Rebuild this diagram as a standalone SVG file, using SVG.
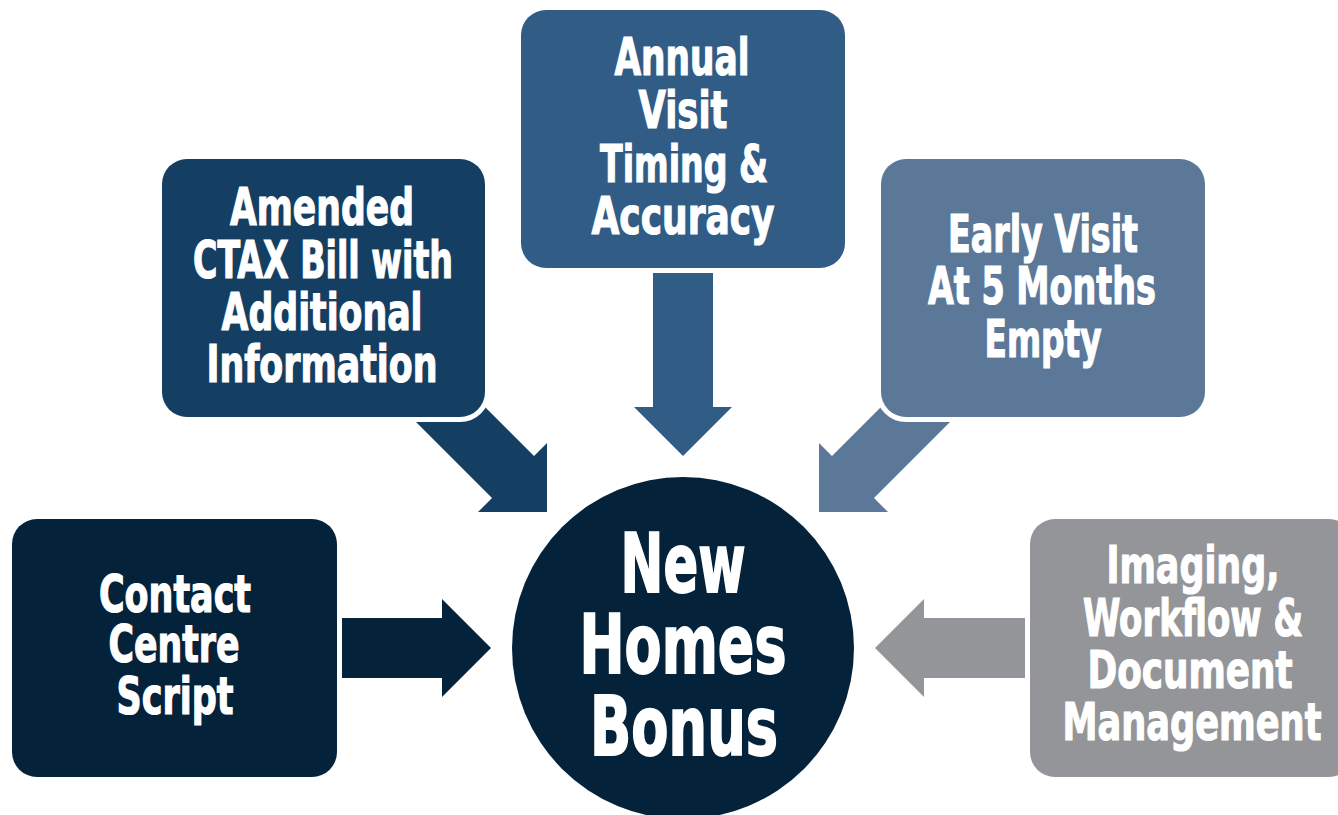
<svg xmlns="http://www.w3.org/2000/svg" width="1338" height="815" viewBox="0 0 1338 815">
<style>
.box{stroke:#ffffff;stroke-width:10;paint-order:stroke}
.t{font-family:"Liberation Sans Narrow","DejaVu Sans Condensed","Liberation Sans",sans-serif;font-weight:bold;font-size:52px;fill:#ffffff;stroke:#ffffff;stroke-width:1.2;text-anchor:middle}
.big{font-size:82px;stroke-width:1.8}
.c1{fill:#04223A}
.c2{fill:#143F63}
.c3{fill:#305C86}
.c4{fill:#5B7899}
.c5{fill:#939598}
</style>
<rect width="1338" height="815" fill="#ffffff"/>
<g id="connectors">
<polygon class="c1" points="320,618 442,618 442,599 491,648 442,697 442,678 320,678"/>
<polygon class="c5" points="1046,618 924,618 924,599 875,648 924,697 924,678 1046,678"/>
<polygon class="c3" points="653,250 713,250 713,407 732,407 683,456 634,407 653,407"/>
<polygon class="c2" points="440,362 534,456 547,443 547,512 478,512 492,498 400,406"/>
<polygon class="c4" points="926,362 832,456 819,443 819,512 888,512 874,498 966,406"/>
</g>
<g id="node-center">
<circle class="c1" cx="683" cy="648" r="171"/>
<text class="t big" x="683" y="592" textLength="125" lengthAdjust="spacingAndGlyphs">New</text>
<text class="t big" x="683" y="673" textLength="207" lengthAdjust="spacingAndGlyphs">Homes</text>
<text class="t big" x="684" y="755" textLength="188" lengthAdjust="spacingAndGlyphs">Bonus</text>
</g>
<g id="node-contact">
<rect class="box c1" x="12" y="519" width="325" height="258" rx="25"/>
<text class="t" x="175" y="612" textLength="152" lengthAdjust="spacingAndGlyphs">Contact</text>
<text class="t" x="174" y="662" textLength="131" lengthAdjust="spacingAndGlyphs">Centre</text>
<text class="t" x="175" y="714" textLength="117" lengthAdjust="spacingAndGlyphs">Script</text>
</g>
<g id="node-amended">
<rect class="box c2" x="162" y="159" width="323" height="258" rx="25"/>
<text class="t" x="322" y="225" textLength="184" lengthAdjust="spacingAndGlyphs">Amended</text>
<text class="t" x="323" y="278" textLength="260" lengthAdjust="spacingAndGlyphs">CTAX Bill with</text>
<text class="t" x="322" y="330" textLength="201" lengthAdjust="spacingAndGlyphs">Additional</text>
<text class="t" x="322" y="382" textLength="231" lengthAdjust="spacingAndGlyphs">Information</text>
</g>
<g id="node-annual">
<rect class="box c3" x="521" y="10" width="324" height="258" rx="25"/>
<text class="t" x="682" y="75" textLength="135" lengthAdjust="spacingAndGlyphs">Annual</text>
<text class="t" x="683" y="128" textLength="89" lengthAdjust="spacingAndGlyphs">Visit</text>
<text class="t" x="684" y="182" textLength="168" lengthAdjust="spacingAndGlyphs">Timing &amp;</text>
<text class="t" x="683" y="234" textLength="183" lengthAdjust="spacingAndGlyphs">Accuracy</text>
</g>
<g id="node-early">
<rect class="box c4" x="881" y="159" width="324" height="258" rx="25"/>
<text class="t" x="1043" y="252" textLength="190" lengthAdjust="spacingAndGlyphs">Early Visit</text>
<text class="t" x="1042" y="304" textLength="228" lengthAdjust="spacingAndGlyphs">At 5 Months</text>
<text class="t" x="1043" y="357" textLength="117" lengthAdjust="spacingAndGlyphs">Empty</text>
</g>
<g id="node-imaging">
<rect class="box c5" x="1030" y="519" width="324" height="258" rx="25"/>
<text class="t" x="1193" y="583" textLength="173" lengthAdjust="spacingAndGlyphs">Imaging,</text>
<text class="t" x="1193" y="636" textLength="220" lengthAdjust="spacingAndGlyphs">Workflow &amp;</text>
<text class="t" x="1190" y="688" textLength="205" lengthAdjust="spacingAndGlyphs">Document</text>
<text class="t" x="1192" y="740" textLength="259" lengthAdjust="spacingAndGlyphs">Management</text>
</g>
</svg>
